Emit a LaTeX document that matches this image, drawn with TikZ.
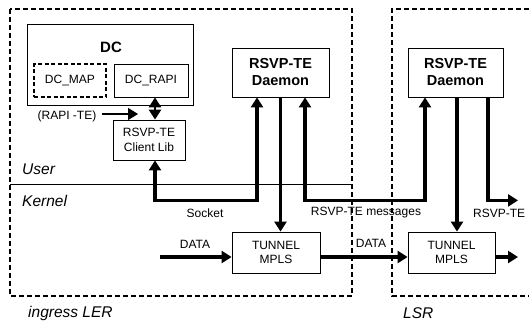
\documentclass[tikz,border=0pt]{standalone}
\usepackage{fontspec}
\setmainfont{Liberation Sans}
\usetikzlibrary{arrows.meta}
\tikzset{
  box/.style={draw, line width=0.8pt, inner sep=0pt, align=center, font=\fontsize{12}{14.5}\selectfont},
  bbox/.style={box, font=\fontsize{14.5}{17}\selectfont\bfseries},
  lbl/.style={inner sep=0pt, font=\fontsize{12}{14}\selectfont},
  ilbl/.style={inner sep=0pt, anchor=west, font=\fontsize{15.5}{18}\selectfont\itshape},
  outer/.style={line width=1.8pt, dash pattern=on 5pt off 3pt},
  tip/.style={-{Triangle[length=10pt,width=12pt]}},
  dtip/.style={{Triangle[length=10pt,width=12pt]}-{Triangle[length=10pt,width=12pt]}},
  thk/.style={line width=3.8pt},
  mid/.style={line width=2.8pt},
}
\begin{document}
\begin{tikzpicture}[x=1pt,y=-1pt]
\useasboundingbox (0,0) rectangle (529,325);
% outer frames
\draw[outer] (10,9) rectangle (352,296);
\draw[outer] (529,9) -- (392,9) -- (392,296) -- (529,296);
\draw[line width=0.7pt] (10,184) -- (352,184);
% boxes
\node[box, minimum width=166pt, minimum height=81pt] (dc) at (110,64.5) {};
\node[inner sep=0pt, font=\fontsize{15}{18}\selectfont\bfseries] (dclabel) at (111,47) {DC};
\node[box, dash pattern=on 4pt off 2.5pt, line width=1.6pt, minimum width=72pt, minimum height=33pt] (dcmap) at (70,80.5) {DC\_MAP};
\node[box, minimum width=74pt, minimum height=33pt] (dcrapi) at (151,80.5) {DC\_RAPI};
\node[box, minimum width=72pt, minimum height=40pt] (clib) at (149,140) {RSVP-TE\\Client Lib};
\node[bbox, minimum width=97pt, minimum height=49pt] (daemonL) at (280.5,72.5) {RSVP-TE\\Daemon};
\node[bbox, minimum width=95pt, minimum height=49pt] (daemonR) at (455.5,72.5) {RSVP-TE\\Daemon};
\node[box, minimum width=88pt, minimum height=41pt] (tunL) at (276,252.5) {TUNNEL\\MPLS};
\node[box, minimum width=87pt, minimum height=41pt] (tunR) at (451.5,252.5) {TUNNEL\\MPLS};
% labels
\node[ilbl] (user) at (22,169) {User};
\node[ilbl] (kernel) at (22,201) {Kernel};
\node[ilbl] (ler) at (28,313) {ingress LER};
\node[ilbl] (lsr) at (403,313) {LSR};
\node[lbl] (rapi) at (67,116) {(RAPI -TE)};
\node[lbl] (sock) at (205,213) {Socket};
\node[lbl] (msgs) at (366,213) {RSVP-TE messages};
\node[lbl, anchor=west] (msgs2) at (473,213) {RSVP-TE};
\node[lbl] (data1) at (195,244) {DATA};
\node[lbl] (data2) at (371,243) {DATA};
% coordinates
\coordinate (rapitip) at (138,114);
\coordinate (datain) at (160,257);
\coordinate (dataout) at (518,257);
% connectors
\draw[line width=1.4pt, tip] ([xshift=5pt]rapi.east |- rapitip) -- (rapitip);
\draw[mid, dtip] ([xshift=4pt]dcrapi.south) -- ([xshift=6pt]clib.north);
\draw[thk, dtip] ([xshift=-23.5pt]daemonL.south) -- ++(0,103) -| ([xshift=6pt]clib.south);
\draw[thk, dtip] ([xshift=24.5pt]daemonL.south) -- ++(0,103) -| ([xshift=-30.5pt]daemonR.south);
\draw[mid, tip] (daemonL.south) -- (daemonL.south |- tunL.north);
\draw[thk, tip] ([xshift=1.5pt]daemonR.south) -- ([xshift=1.5pt]daemonR.south |- tunR.north);
\draw[thk, tip] ([xshift=32.5pt]daemonR.south) -- ++(0,103) -- ++(30,0);
\draw[thk, tip] (datain) -- (tunL.west |- datain);
\draw[thk, tip] (tunL.east |- datain) -- (tunR.west |- datain);
\draw[thk, tip] (tunR.east |- dataout) -- (dataout);
\end{tikzpicture}
\end{document}
